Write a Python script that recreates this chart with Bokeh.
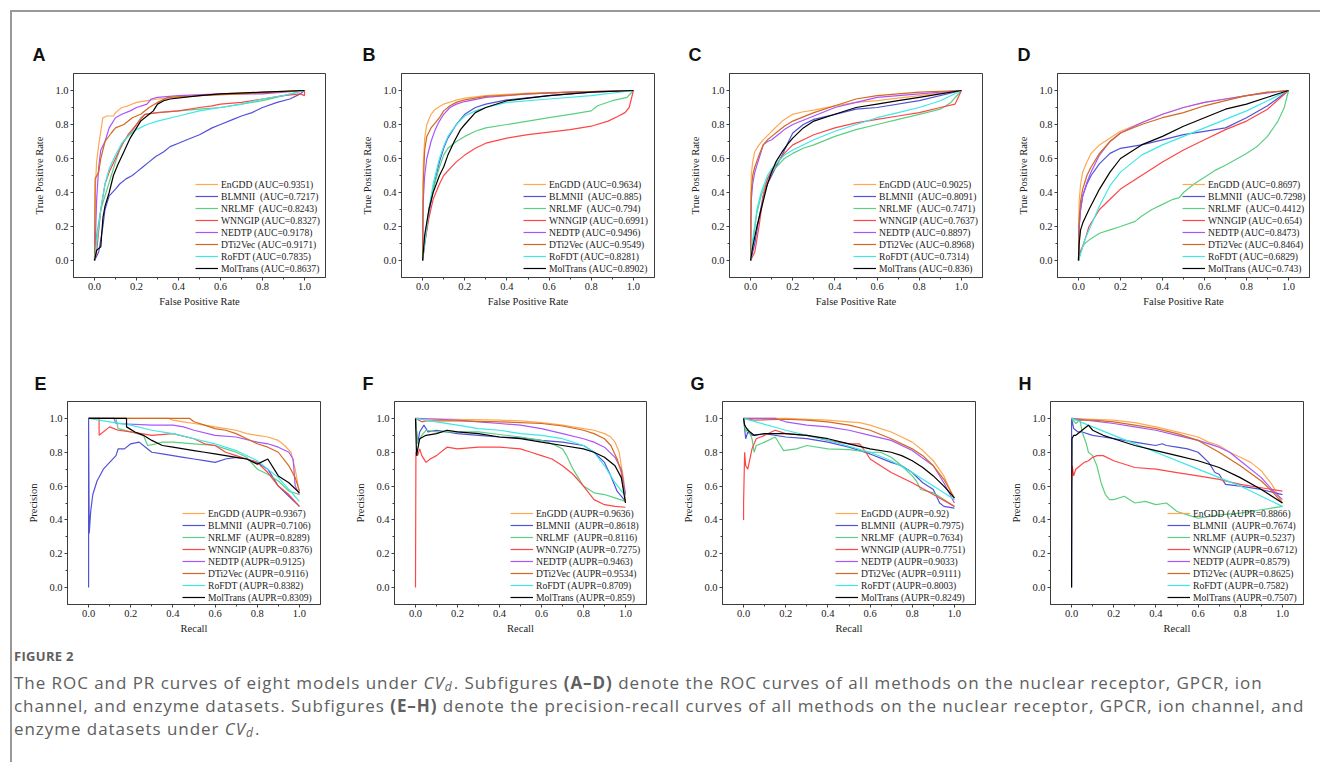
from bokeh.plotting import figure
from bokeh.models import (Range1d, FixedTicker, PrintfTickFormatter, Legend,
                          LegendItem, Div)
from bokeh.layouts import row, column
from bokeh.embed import file_html
from bokeh.resources import INLINE

# ---------------- data ----------------
METHODS = ["EnGDD", "BLMNII", "NRLMF", "WNNGIP", "NEDTP", "DTi2Vec", "RoFDT", "MolTrans"]
LEGEND_NAMES = ["EnGDD", "BLMNII ", "NRLMF ", "WNNGIP", "NEDTP", "DTi2Vec", "RoFDT", "MolTrans"]
COLORS = ["#FFA852", "#5252D6", "#5CCF82", "#FF4646", "#A855FF", "#D2691E", "#3DE8E8", "#000000"]

AUC_A = ["0.9351", "0.7217", "0.8243", "0.8327", "0.9178", "0.9171", "0.7835", "0.8637"]
AUC_B = ["0.9634", "0.885", "0.794", "0.6991", "0.9496", "0.9549", "0.8281", "0.8902"]
AUC_C = ["0.9025", "0.8091", "0.7471", "0.7637", "0.8897", "0.8968", "0.7314", "0.836"]
AUC_D = ["0.8697", "0.7298", "0.4412", "0.654", "0.8473", "0.8464", "0.6829", "0.743"]
AUPR_E = ["0.9367", "0.7106", "0.8289", "0.8376", "0.9125", "0.9116", "0.8382", "0.8309"]
AUPR_F = ["0.9636", "0.8618", "0.8116", "0.7275", "0.9463", "0.9534", "0.8709", "0.859"]
AUPR_G = ["0.92", "0.7975", "0.7634", "0.7751", "0.9033", "0.9111", "0.8003", "0.8249"]
AUPR_H = ["0.8866", "0.7674", "0.5237", "0.6712", "0.8579", "0.8625", "0.7582", "0.7507"]

TICKS = [0.0, 0.2, 0.4, 0.6, 0.8, 1.0]
MINOR_TICKS = [0.1, 0.3, 0.5, 0.7, 0.9]

# ROC curves (FPR, TPR) -- panel A: nuclear receptor
A_EnGDD = ([0, 0.005, 0.01, 0.02, 0.03, 0.04, 0.06, 0.09, 0.1, 0.13, 0.16, 0.2, 0.25, 0.3, 0.4, 0.5, 0.6, 0.8, 1.0],
           [0, 0.45, 0.58, 0.68, 0.76, 0.84, 0.85, 0.85, 0.87, 0.9, 0.91, 0.93, 0.94, 0.95, 0.96, 0.97, 0.98, 0.99, 1.0])
A_BLMNII = ([0, 0.02, 0.04, 0.05, 0.07, 0.1, 0.12, 0.15, 0.18, 0.2, 0.23, 0.26, 0.29, 0.33, 0.36, 0.4, 0.44, 0.5, 0.56, 0.6, 0.66, 0.7, 0.75, 0.8, 0.87, 0.93, 0.98, 1.0],
            [0, 0.05, 0.2, 0.3, 0.38, 0.42, 0.45, 0.48, 0.5, 0.52, 0.55, 0.58, 0.61, 0.64, 0.67, 0.69, 0.71, 0.74, 0.78, 0.8, 0.83, 0.85, 0.87, 0.9, 0.93, 0.95, 0.98, 1.0])
A_NRLMF = ([0, 0.01, 0.03, 0.05, 0.06, 0.08, 0.1, 0.12, 0.14, 0.16, 0.18, 0.2, 0.22, 0.24, 0.3, 0.4, 0.5, 0.6, 0.7, 0.8, 0.9, 1.0],
           [0, 0.15, 0.3, 0.38, 0.42, 0.5, 0.58, 0.65, 0.7, 0.73, 0.76, 0.8, 0.84, 0.86, 0.87, 0.88, 0.89, 0.9, 0.92, 0.94, 0.97, 1.0])
A_WNNGIP = ([0, 0.01, 0.03, 0.05, 0.07, 0.1, 0.13, 0.16, 0.2, 0.24, 0.3, 0.4, 0.5, 0.56, 0.6, 0.7, 0.8, 0.9, 0.98, 1.0, 1.0],
            [0, 0.05, 0.3, 0.45, 0.52, 0.6, 0.68, 0.74, 0.8, 0.86, 0.87, 0.88, 0.9, 0.91, 0.92, 0.93, 0.95, 0.97, 0.98, 0.97, 1.0])
A_NEDTP = ([0, 0.005, 0.01, 0.02, 0.03, 0.05, 0.07, 0.1, 0.13, 0.17, 0.2, 0.25, 0.27, 0.3, 0.4, 0.6, 0.8, 0.9, 1.0],
           [0, 0.15, 0.35, 0.55, 0.65, 0.7, 0.78, 0.84, 0.86, 0.88, 0.9, 0.92, 0.95, 0.96, 0.97, 0.98, 0.98, 0.99, 1.0])
A_DTi2Vec = ([0, 0.003, 0.02, 0.03, 0.05, 0.08, 0.1, 0.14, 0.18, 0.22, 0.26, 0.3, 0.35, 0.5, 0.7, 0.85, 1.0],
             [0, 0.48, 0.52, 0.6, 0.7, 0.75, 0.78, 0.8, 0.84, 0.86, 0.9, 0.93, 0.96, 0.97, 0.98, 0.99, 1.0])
A_RoFDT = ([0, 0.01, 0.03, 0.05, 0.07, 0.1, 0.13, 0.16, 0.2, 0.25, 0.3, 0.4, 0.5, 0.6, 0.7, 0.8, 0.9, 1.0],
           [0, 0.1, 0.3, 0.45, 0.54, 0.62, 0.69, 0.73, 0.77, 0.8, 0.82, 0.85, 0.88, 0.9, 0.92, 0.95, 0.97, 1.0])
A_MolTrans = ([0, 0.01, 0.03, 0.04, 0.05, 0.07, 0.09, 0.11, 0.14, 0.17, 0.2, 0.22, 0.25, 0.28, 0.3, 0.33, 0.36, 0.5, 0.6, 0.8, 1.0],
              [0, 0.06, 0.08, 0.25, 0.32, 0.4, 0.5, 0.56, 0.64, 0.72, 0.78, 0.82, 0.85, 0.88, 0.92, 0.94, 0.95, 0.97, 0.98, 0.99, 1.0])

# panel B: GPCR
B_EnGDD = ([0, 0.003, 0.01, 0.02, 0.04, 0.06, 0.1, 0.15, 0.2, 0.3, 0.5, 0.7, 1.0],
           [0, 0.55, 0.72, 0.8, 0.86, 0.89, 0.92, 0.94, 0.955, 0.97, 0.985, 0.99, 1.0])
B_BLMNII = ([0, 0.01, 0.03, 0.05, 0.08, 0.1, 0.12, 0.16, 0.2, 0.25, 0.3, 0.4, 0.6, 0.8, 1.0],
            [0, 0.1, 0.28, 0.42, 0.58, 0.66, 0.72, 0.8, 0.86, 0.9, 0.92, 0.945, 0.97, 0.99, 1.0])
B_NRLMF = ([0, 0.01, 0.03, 0.05, 0.08, 0.1, 0.12, 0.16, 0.2, 0.25, 0.3, 0.4, 0.5, 0.6, 0.7, 0.8, 0.83, 0.9, 0.97, 1.0],
           [0, 0.12, 0.3, 0.42, 0.55, 0.62, 0.66, 0.7, 0.73, 0.76, 0.78, 0.8, 0.82, 0.84, 0.86, 0.88, 0.91, 0.94, 0.96, 1.0])
B_WNNGIP = ([0, 0.01, 0.03, 0.05, 0.08, 0.1, 0.13, 0.16, 0.2, 0.25, 0.3, 0.4, 0.5, 0.6, 0.7, 0.8, 0.88, 0.93, 0.96, 0.98, 1.0],
            [0, 0.1, 0.25, 0.36, 0.45, 0.5, 0.54, 0.58, 0.62, 0.66, 0.69, 0.72, 0.74, 0.755, 0.77, 0.79, 0.82, 0.85, 0.87, 0.9, 1.0])
B_NEDTP = ([0, 0.003, 0.01, 0.02, 0.04, 0.06, 0.08, 0.1, 0.13, 0.16, 0.2, 0.3, 0.5, 0.7, 1.0],
           [0, 0.35, 0.5, 0.6, 0.7, 0.77, 0.82, 0.86, 0.9, 0.92, 0.935, 0.96, 0.98, 0.99, 1.0])
B_DTi2Vec = ([0, 0.003, 0.01, 0.02, 0.04, 0.06, 0.08, 0.1, 0.13, 0.16, 0.2, 0.3, 0.5, 0.7, 1.0],
             [0, 0.45, 0.65, 0.73, 0.78, 0.81, 0.84, 0.88, 0.91, 0.93, 0.945, 0.965, 0.98, 0.99, 1.0])
B_RoFDT = ([0, 0.01, 0.03, 0.05, 0.08, 0.1, 0.12, 0.16, 0.2, 0.25, 0.3, 0.4, 0.6, 0.8, 1.0],
           [0, 0.1, 0.3, 0.45, 0.6, 0.67, 0.73, 0.8, 0.85, 0.88, 0.9, 0.93, 0.95, 0.97, 1.0])
B_MolTrans = ([0, 0.01, 0.03, 0.05, 0.08, 0.1, 0.12, 0.15, 0.18, 0.2, 0.25, 0.3, 0.4, 0.6, 0.8, 1.0],
              [0, 0.15, 0.3, 0.4, 0.5, 0.55, 0.62, 0.7, 0.77, 0.8, 0.87, 0.9, 0.94, 0.97, 0.99, 1.0])

# panel C: ion channel
C_EnGDD = ([0, 0.003, 0.01, 0.02, 0.04, 0.06, 0.1, 0.15, 0.2, 0.25, 0.3, 0.4, 0.5, 0.6, 0.8, 1.0],
           [0, 0.5, 0.58, 0.64, 0.68, 0.71, 0.76, 0.82, 0.86, 0.875, 0.885, 0.91, 0.93, 0.94, 0.97, 1.0])
C_BLMNII = ([0, 0.02, 0.04, 0.06, 0.08, 0.1, 0.12, 0.15, 0.18, 0.2, 0.25, 0.3, 0.4, 0.5, 0.6, 0.8, 1.0],
            [0, 0.1, 0.25, 0.38, 0.45, 0.5, 0.55, 0.62, 0.7, 0.75, 0.8, 0.83, 0.86, 0.89, 0.9, 0.94, 1.0])
C_NRLMF = ([0, 0.01, 0.03, 0.05, 0.08, 0.1, 0.13, 0.16, 0.2, 0.25, 0.3, 0.4, 0.5, 0.6, 0.7, 0.8, 0.9, 0.95, 1.0],
           [0, 0.1, 0.28, 0.38, 0.48, 0.52, 0.56, 0.6, 0.63, 0.66, 0.68, 0.73, 0.77, 0.8, 0.83, 0.86, 0.89, 0.93, 1.0])
C_WNNGIP = ([0, 0.02, 0.04, 0.06, 0.08, 0.1, 0.13, 0.16, 0.2, 0.25, 0.3, 0.4, 0.5, 0.6, 0.7, 0.8, 0.9, 0.97, 1.0],
            [0, 0.05, 0.2, 0.38, 0.48, 0.53, 0.58, 0.63, 0.68, 0.71, 0.74, 0.78, 0.81, 0.83, 0.85, 0.87, 0.9, 0.92, 1.0])
C_NEDTP = ([0, 0.003, 0.01, 0.02, 0.04, 0.06, 0.08, 0.1, 0.13, 0.16, 0.2, 0.3, 0.4, 0.5, 0.6, 0.8, 1.0],
           [0, 0.35, 0.45, 0.52, 0.6, 0.68, 0.7, 0.71, 0.74, 0.77, 0.8, 0.85, 0.9, 0.93, 0.96, 0.98, 1.0])
C_DTi2Vec = ([0, 0.003, 0.01, 0.02, 0.04, 0.06, 0.08, 0.1, 0.13, 0.16, 0.2, 0.3, 0.4, 0.5, 0.6, 0.8, 1.0],
             [0, 0.4, 0.5, 0.55, 0.62, 0.68, 0.71, 0.73, 0.76, 0.79, 0.82, 0.87, 0.91, 0.95, 0.97, 0.99, 1.0])
C_RoFDT = ([0, 0.01, 0.03, 0.05, 0.08, 0.1, 0.13, 0.16, 0.2, 0.3, 0.4, 0.5, 0.6, 0.7, 0.8, 0.9, 1.0],
           [0, 0.12, 0.3, 0.4, 0.5, 0.54, 0.58, 0.62, 0.65, 0.71, 0.76, 0.8, 0.84, 0.87, 0.9, 0.94, 1.0])
C_MolTrans = ([0, 0.01, 0.03, 0.05, 0.08, 0.1, 0.12, 0.15, 0.18, 0.2, 0.25, 0.3, 0.4, 0.5, 0.6, 0.7, 0.8, 0.9, 1.0],
              [0, 0.08, 0.2, 0.3, 0.45, 0.52, 0.58, 0.64, 0.69, 0.72, 0.78, 0.82, 0.86, 0.9, 0.92, 0.94, 0.96, 0.98, 1.0])

# panel D: enzyme
D_EnGDD = ([0, 0.003, 0.01, 0.02, 0.04, 0.06, 0.1, 0.15, 0.2, 0.3, 0.4, 0.5, 0.6, 0.7, 0.8, 0.9, 1.0],
           [0, 0.35, 0.45, 0.52, 0.58, 0.63, 0.68, 0.72, 0.76, 0.81, 0.86, 0.9, 0.93, 0.95, 0.97, 0.99, 1.0])
D_BLMNII = ([0, 0.003, 0.01, 0.02, 0.04, 0.06, 0.1, 0.15, 0.2, 0.3, 0.4, 0.5, 0.6, 0.7, 0.8, 0.9, 1.0],
            [0, 0.2, 0.3, 0.38, 0.45, 0.5, 0.57, 0.63, 0.66, 0.68, 0.71, 0.74, 0.76, 0.78, 0.84, 0.91, 1.0])
D_NRLMF = ([0, 0.01, 0.03, 0.05, 0.1, 0.15, 0.2, 0.27, 0.3, 0.35, 0.4, 0.45, 0.48, 0.5, 0.55, 0.6, 0.65, 0.7, 0.8, 0.85, 0.9, 0.95, 0.98, 1.0],
           [0, 0.06, 0.1, 0.12, 0.16, 0.18, 0.2, 0.23, 0.26, 0.3, 0.33, 0.36, 0.37, 0.4, 0.45, 0.49, 0.53, 0.56, 0.63, 0.67, 0.73, 0.82, 0.9, 1.0])
D_WNNGIP = ([0, 0.01, 0.03, 0.05, 0.1, 0.15, 0.2, 0.3, 0.4, 0.5, 0.6, 0.7, 0.8, 0.9, 1.0],
            [0, 0.05, 0.12, 0.2, 0.3, 0.36, 0.42, 0.5, 0.58, 0.65, 0.71, 0.77, 0.82, 0.89, 1.0])
D_NEDTP = ([0, 0.003, 0.01, 0.02, 0.04, 0.06, 0.1, 0.15, 0.2, 0.3, 0.4, 0.5, 0.6, 0.7, 0.8, 1.0],
           [0, 0.2, 0.3, 0.38, 0.46, 0.52, 0.62, 0.7, 0.75, 0.81, 0.86, 0.9, 0.93, 0.95, 0.97, 1.0])
D_DTi2Vec = ([0, 0.003, 0.01, 0.02, 0.04, 0.06, 0.1, 0.15, 0.2, 0.3, 0.4, 0.5, 0.6, 0.7, 0.8, 0.9, 1.0],
             [0, 0.25, 0.35, 0.42, 0.5, 0.55, 0.63, 0.7, 0.75, 0.8, 0.84, 0.87, 0.91, 0.94, 0.97, 0.99, 1.0])
D_RoFDT = ([0, 0.01, 0.03, 0.05, 0.1, 0.15, 0.2, 0.3, 0.4, 0.5, 0.6, 0.7, 0.8, 0.9, 1.0],
           [0, 0.04, 0.12, 0.18, 0.32, 0.44, 0.52, 0.62, 0.68, 0.73, 0.78, 0.83, 0.88, 0.94, 1.0])
D_MolTrans = ([0, 0.003, 0.01, 0.02, 0.05, 0.1, 0.15, 0.2, 0.3, 0.4, 0.5, 0.6, 0.7, 0.8, 0.9, 1.0],
              [0, 0.1, 0.18, 0.22, 0.3, 0.42, 0.52, 0.6, 0.68, 0.73, 0.79, 0.84, 0.89, 0.92, 0.96, 1.0])

# PR curves (Recall, Precision) -- panel E: nuclear receptor
E_EnGDD = ([0, 0.38, 0.4, 0.45, 0.5, 0.55, 0.6, 0.65, 0.7, 0.75, 0.8, 0.85, 0.9, 0.93, 0.96, 0.98, 1.0],
           [1.0, 1.0, 0.99, 0.98, 0.97, 0.96, 0.95, 0.94, 0.93, 0.91, 0.9, 0.89, 0.87, 0.84, 0.8, 0.7, 0.56])
E_BLMNII = ([0, 0, 0.003, 0.01, 0.02, 0.04, 0.07, 0.1, 0.13, 0.14, 0.17, 0.2, 0.24, 0.27, 0.3, 0.35, 0.4, 0.45, 0.5, 0.55, 0.6, 0.65, 0.7, 0.75, 0.8, 0.85, 0.9, 0.95, 1.0],
            [0, 1.0, 0.32, 0.45, 0.55, 0.63, 0.7, 0.74, 0.78, 0.82, 0.82, 0.85, 0.86, 0.83, 0.8, 0.79, 0.78, 0.77, 0.76, 0.75, 0.74, 0.76, 0.77, 0.76, 0.74, 0.7, 0.6, 0.54, 0.48])
E_NRLMF = ([0, 0.13, 0.14, 0.2, 0.26, 0.28, 0.32, 0.35, 0.4, 0.5, 0.6, 0.65, 0.7, 0.75, 0.8, 0.85, 0.9, 0.95, 1.0],
           [1.0, 1.0, 0.94, 0.92, 0.9, 0.84, 0.85, 0.86, 0.86, 0.85, 0.84, 0.82, 0.8, 0.77, 0.7, 0.67, 0.63, 0.57, 0.55])
E_WNNGIP = ([0, 0.05, 0.05, 0.1, 0.14, 0.2, 0.3, 0.4, 0.5, 0.55, 0.6, 0.65, 0.7, 0.75, 0.8, 0.85, 0.9, 0.95, 1.0],
            [1.0, 1.0, 0.9, 0.95, 0.93, 0.92, 0.9, 0.91, 0.88, 0.85, 0.84, 0.8, 0.78, 0.76, 0.74, 0.68, 0.6, 0.55, 0.48])
E_NEDTP = ([0, 0.12, 0.13, 0.3, 0.4, 0.45, 0.5, 0.6, 0.7, 0.8, 0.85, 0.9, 0.95, 0.97, 0.98, 1.0],
           [1.0, 1.0, 0.97, 0.96, 0.96, 0.95, 0.93, 0.9, 0.89, 0.86, 0.85, 0.83, 0.8, 0.76, 0.6, 0.55])
E_DTi2Vec = ([0, 0.48, 0.5, 0.55, 0.6, 0.65, 0.7, 0.75, 0.8, 0.85, 0.9, 0.95, 0.98, 1.0],
             [1.0, 1.0, 0.98, 0.96, 0.94, 0.93, 0.91, 0.88, 0.85, 0.83, 0.8, 0.72, 0.65, 0.57])
E_RoFDT = ([0, 0.1, 0.2, 0.3, 0.4, 0.5, 0.6, 0.7, 0.8, 0.9, 1.0],
           [1.0, 0.98, 0.96, 0.93, 0.91, 0.88, 0.85, 0.81, 0.75, 0.65, 0.51])
E_MolTrans = ([0, 0.18, 0.18, 0.22, 0.26, 0.3, 0.35, 0.4, 0.45, 0.5, 0.55, 0.6, 0.65, 0.7, 0.75, 0.8, 0.85, 0.9, 0.95, 1.0],
              [1.0, 1.0, 0.95, 0.92, 0.9, 0.87, 0.84, 0.83, 0.82, 0.81, 0.8, 0.79, 0.78, 0.77, 0.76, 0.73, 0.76, 0.66, 0.62, 0.56])

# panel F: GPCR
F_EnGDD = ([0, 0.2, 0.4, 0.5, 0.6, 0.7, 0.8, 0.85, 0.9, 0.93, 0.95, 0.97, 0.98, 0.99, 1.0],
           [1.0, 0.995, 0.99, 0.985, 0.975, 0.96, 0.94, 0.93, 0.91, 0.89, 0.86, 0.8, 0.72, 0.65, 0.55])
F_BLMNII = ([0, 0.01, 0.02, 0.04, 0.06, 0.1, 0.2, 0.3, 0.4, 0.5, 0.6, 0.7, 0.8, 0.85, 0.9, 0.93, 0.96, 1.0],
            [1.0, 0.85, 0.92, 0.96, 0.92, 0.93, 0.91, 0.9, 0.89, 0.885, 0.87, 0.86, 0.84, 0.8, 0.74, 0.66, 0.57, 0.51])
F_NRLMF = ([0, 0.01, 0.03, 0.05, 0.1, 0.2, 0.3, 0.4, 0.5, 0.6, 0.65, 0.7, 0.72, 0.75, 0.78, 0.8, 0.85, 0.9, 0.95, 1.0],
           [1.0, 0.85, 0.9, 0.93, 0.92, 0.92, 0.92, 0.905, 0.89, 0.87, 0.85, 0.82, 0.78, 0.7, 0.64, 0.6, 0.56, 0.55, 0.53, 0.51])
F_WNNGIP = ([0, 0.002, 0.01, 0.02, 0.03, 0.05, 0.07, 0.1, 0.15, 0.2, 0.3, 0.4, 0.5, 0.55, 0.6, 0.65, 0.7, 0.75, 0.8, 0.85, 0.9, 0.95, 1.0],
            [0, 0.8, 0.78, 0.82, 0.78, 0.74, 0.76, 0.78, 0.83, 0.82, 0.83, 0.83, 0.82, 0.8, 0.78, 0.76, 0.72, 0.67, 0.6, 0.52, 0.49, 0.48, 0.475])
F_NEDTP = ([0, 0.1, 0.2, 0.3, 0.4, 0.5, 0.6, 0.7, 0.8, 0.85, 0.9, 0.95, 0.98, 1.0],
           [1.0, 0.995, 0.99, 0.98, 0.97, 0.96, 0.94, 0.91, 0.88, 0.86, 0.83, 0.77, 0.7, 0.55])
F_DTi2Vec = ([0, 0.03, 0.05, 0.2, 0.4, 0.6, 0.7, 0.8, 0.85, 0.9, 0.93, 0.96, 0.98, 1.0],
             [1.0, 0.98, 0.985, 0.985, 0.98, 0.97, 0.955, 0.93, 0.91, 0.88, 0.84, 0.76, 0.68, 0.51])
F_RoFDT = ([0, 0.1, 0.2, 0.3, 0.4, 0.5, 0.6, 0.7, 0.8, 0.85, 0.9, 0.95, 1.0],
           [1.0, 0.98, 0.96, 0.94, 0.93, 0.91, 0.9, 0.88, 0.84, 0.8, 0.72, 0.62, 0.54])
F_MolTrans = ([0, 0.005, 0.02, 0.05, 0.1, 0.15, 0.2, 0.3, 0.4, 0.5, 0.6, 0.7, 0.8, 0.85, 0.9, 0.95, 0.98, 1.0],
              [1.0, 0.78, 0.88, 0.9, 0.91, 0.93, 0.92, 0.91, 0.89, 0.88, 0.86, 0.84, 0.82, 0.8, 0.77, 0.72, 0.65, 0.5])

# panel G: ion channel
G_EnGDD = ([0, 0.2, 0.4, 0.5, 0.55, 0.6, 0.65, 0.7, 0.75, 0.8, 0.85, 0.9, 0.95, 1.0],
           [1.0, 1.0, 0.99, 0.98, 0.975, 0.96, 0.94, 0.92, 0.89, 0.86, 0.81, 0.75, 0.66, 0.52])
G_BLMNII = ([0, 0.01, 0.02, 0.04, 0.1, 0.2, 0.3, 0.4, 0.5, 0.6, 0.7, 0.75, 0.8, 0.85, 0.9, 0.93, 0.95, 1.0],
            [1.0, 0.88, 0.92, 0.9, 0.91, 0.89, 0.88, 0.86, 0.83, 0.79, 0.74, 0.72, 0.68, 0.62, 0.58, 0.5, 0.48, 0.47])
G_NRLMF = ([0, 0.01, 0.02, 0.04, 0.05, 0.06, 0.1, 0.15, 0.17, 0.19, 0.25, 0.3, 0.4, 0.5, 0.6, 0.65, 0.7, 0.75, 0.8, 0.82, 0.84, 0.9, 0.95, 1.0],
           [1.0, 0.92, 0.94, 0.88, 0.8, 0.84, 0.86, 0.89, 0.85, 0.81, 0.82, 0.84, 0.82, 0.815, 0.8, 0.8, 0.77, 0.72, 0.66, 0.63, 0.58, 0.56, 0.52, 0.48])
G_WNNGIP = ([0, 0, 0.005, 0.01, 0.02, 0.04, 0.06, 0.1, 0.15, 0.2, 0.3, 0.4, 0.5, 0.55, 0.58, 0.6, 0.65, 0.7, 0.8, 0.9, 1.0],
            [0.4, 0.5, 0.8, 0.72, 0.7, 0.82, 0.88, 0.9, 0.93, 0.91, 0.9, 0.87, 0.85, 0.85, 0.8, 0.76, 0.72, 0.68, 0.62, 0.55, 0.48])
G_NEDTP = ([0, 0.15, 0.2, 0.3, 0.4, 0.5, 0.6, 0.7, 0.8, 0.9, 0.95, 1.0],
           [1.0, 1.0, 0.98, 0.96, 0.95, 0.93, 0.9, 0.87, 0.81, 0.72, 0.62, 0.5])
G_DTi2Vec = ([0, 0.05, 0.2, 0.3, 0.4, 0.5, 0.6, 0.7, 0.8, 0.85, 0.9, 0.95, 1.0],
             [1.0, 0.99, 0.995, 0.99, 0.98, 0.96, 0.93, 0.88, 0.82, 0.78, 0.72, 0.64, 0.53])
G_RoFDT = ([0, 0.2, 0.4, 0.6, 0.7, 0.8, 0.9, 1.0],
           [1.0, 0.93, 0.87, 0.8, 0.75, 0.68, 0.6, 0.52])
G_MolTrans = ([0, 0.005, 0.02, 0.05, 0.1, 0.2, 0.3, 0.4, 0.5, 0.6, 0.7, 0.75, 0.8, 0.85, 0.9, 0.95, 1.0],
              [1.0, 0.96, 0.93, 0.9, 0.91, 0.91, 0.9, 0.88, 0.85, 0.82, 0.8, 0.78, 0.75, 0.71, 0.66, 0.6, 0.53])

# panel H: enzyme
H_EnGDD = ([0, 0.1, 0.2, 0.3, 0.4, 0.5, 0.6, 0.65, 0.7, 0.75, 0.8, 0.85, 0.9, 0.95, 1.0],
           [1.0, 0.995, 0.99, 0.975, 0.95, 0.92, 0.89, 0.86, 0.84, 0.8, 0.77, 0.74, 0.69, 0.61, 0.5])
H_BLMNII = ([0, 0, 0.01, 0.03, 0.05, 0.1, 0.15, 0.2, 0.3, 0.35, 0.4, 0.43, 0.45, 0.5, 0.55, 0.6, 0.65, 0.68, 0.7, 0.73, 0.8, 0.9, 1.0],
            [0, 1.0, 0.94, 0.92, 0.92, 0.9, 0.89, 0.88, 0.86, 0.85, 0.84, 0.85, 0.84, 0.83, 0.82, 0.8, 0.74, 0.68, 0.67, 0.61, 0.6, 0.58, 0.55])
H_NRLMF = ([0, 0.02, 0.04, 0.05, 0.07, 0.08, 0.1, 0.12, 0.14, 0.16, 0.18, 0.2, 0.25, 0.3, 0.35, 0.4, 0.45, 0.5, 0.55, 0.6, 0.7, 0.8, 0.9, 1.0],
           [1.0, 0.97, 0.99, 0.92, 0.85, 0.8, 0.78, 0.72, 0.62, 0.55, 0.52, 0.52, 0.54, 0.5, 0.51, 0.49, 0.5, 0.45, 0.43, 0.41, 0.43, 0.44, 0.46, 0.48])
H_WNNGIP = ([0, 0.003, 0.01, 0.02, 0.04, 0.06, 0.08, 0.1, 0.12, 0.15, 0.2, 0.3, 0.4, 0.5, 0.6, 0.7, 0.8, 0.9, 1.0],
            [0.63, 0.72, 0.66, 0.7, 0.72, 0.74, 0.75, 0.77, 0.78, 0.78, 0.75, 0.71, 0.7, 0.68, 0.66, 0.64, 0.61, 0.59, 0.57])
H_NEDTP = ([0, 0.1, 0.2, 0.3, 0.4, 0.5, 0.6, 0.7, 0.75, 0.8, 0.9, 0.95, 1.0],
           [1.0, 0.985, 0.97, 0.95, 0.93, 0.9, 0.87, 0.83, 0.8, 0.75, 0.65, 0.58, 0.52])
H_DTi2Vec = ([0, 0.03, 0.1, 0.2, 0.3, 0.4, 0.5, 0.6, 0.7, 0.8, 0.9, 0.95, 1.0],
             [1.0, 0.99, 0.99, 0.98, 0.96, 0.94, 0.91, 0.87, 0.8, 0.72, 0.63, 0.57, 0.5])
H_RoFDT = ([0, 0.2, 0.4, 0.6, 0.8, 1.0],
           [1.0, 0.9, 0.8, 0.7, 0.6, 0.48])
H_MolTrans = ([0, 0.002, 0.01, 0.02, 0.04, 0.06, 0.08, 0.1, 0.15, 0.2, 0.3, 0.4, 0.5, 0.6, 0.7, 0.8, 0.9, 1.0],
              [0, 0.88, 0.9, 0.9, 0.92, 0.94, 0.96, 0.93, 0.9, 0.88, 0.84, 0.81, 0.78, 0.75, 0.71, 0.65, 0.58, 0.5])

CURVES_A = [A_EnGDD, A_BLMNII, A_NRLMF, A_WNNGIP, A_NEDTP, A_DTi2Vec, A_RoFDT, A_MolTrans]
CURVES_B = [B_EnGDD, B_BLMNII, B_NRLMF, B_WNNGIP, B_NEDTP, B_DTi2Vec, B_RoFDT, B_MolTrans]
CURVES_C = [C_EnGDD, C_BLMNII, C_NRLMF, C_WNNGIP, C_NEDTP, C_DTi2Vec, C_RoFDT, C_MolTrans]
CURVES_D = [D_EnGDD, D_BLMNII, D_NRLMF, D_WNNGIP, D_NEDTP, D_DTi2Vec, D_RoFDT, D_MolTrans]
CURVES_E = [E_EnGDD, E_BLMNII, E_NRLMF, E_WNNGIP, E_NEDTP, E_DTi2Vec, E_RoFDT, E_MolTrans]
CURVES_F = [F_EnGDD, F_BLMNII, F_NRLMF, F_WNNGIP, F_NEDTP, F_DTi2Vec, F_RoFDT, F_MolTrans]
CURVES_G = [G_EnGDD, G_BLMNII, G_NRLMF, G_WNNGIP, G_NEDTP, G_DTi2Vec, G_RoFDT, G_MolTrans]
CURVES_H = [H_EnGDD, H_BLMNII, H_NRLMF, H_WNNGIP, H_NEDTP, H_DTi2Vec, H_RoFDT, H_MolTrans]

SERIF = "Liberation Serif"
FRAME_COLOR = "#3c3c3c"


def panel(letter, curves, vals, metric, xlabel, ylabel, width, height,
          bl, br, bt, bb, letter_dx, letter_standoff, leg_x, leg_y):
    p = figure(width=width, height=height,
               x_range=Range1d(-0.1, 1.1), y_range=Range1d(-0.1, 1.1),
               output_backend="svg", toolbar_location=None,
               min_border_left=bl, min_border_right=br,
               min_border_top=bt, min_border_bottom=bb)
    p.xgrid.visible = False
    p.ygrid.visible = False
    p.outline_line_color = FRAME_COLOR
    p.outline_line_width = 1
    p.background_fill_color = "white"
    p.border_fill_color = "white"

    # panel letter as the figure title
    p.title.text = letter
    p.title.align = "left"
    p.title.offset = letter_dx
    p.title.text_font = "Liberation Sans"
    p.title.text_font_style = "bold"
    p.title.text_font_size = "18px"
    p.title.text_color = "#111111"
    p.title.standoff = letter_standoff

    p.xaxis.axis_label = xlabel
    p.yaxis.axis_label = ylabel
    for ax in (p.xaxis[0], p.yaxis[0]):
        ax.ticker = FixedTicker(ticks=TICKS, minor_ticks=MINOR_TICKS)
        ax.formatter = PrintfTickFormatter(format="%.1f")
        ax.major_tick_out = 3
        ax.major_tick_in = 0
        ax.minor_tick_out = 2
        ax.minor_tick_in = 0
        ax.major_tick_line_color = FRAME_COLOR
        ax.minor_tick_line_color = FRAME_COLOR
        ax.axis_line_color = FRAME_COLOR
        ax.major_label_standoff = 2
        ax.major_label_text_font = SERIF
        ax.major_label_text_font_size = "10.5px"
        ax.major_label_text_color = "#222222"
        ax.axis_label_text_font = SERIF
        ax.axis_label_text_font_size = "10.5px"
        ax.axis_label_text_font_style = "normal"
        ax.axis_label_text_color = "#222222"
    p.xaxis[0].axis_label_standoff = 3
    p.yaxis[0].axis_label_standoff = 7

    items = []
    for name, col, (xs, ys), v in zip(LEGEND_NAMES, COLORS, curves, vals):
        r = p.line(xs, ys, line_color=col, line_width=1.2)
        items.append(LegendItem(label=f"{name} ({metric}={v})", renderers=[r]))
    leg = Legend(items=items, location=(leg_x, leg_y), padding=0, spacing=0,
                 margin=0, glyph_width=23, glyph_height=12, label_height=12,
                 label_standoff=3, label_text_font=SERIF,
                 label_text_font_size="9.6px", label_text_color="#222222",
                 background_fill_alpha=0, border_line_alpha=0)
    p.add_layout(leg)
    return p


FPR = "False Positive Rate"
TPR = "True Positive Rate"
pA = panel("A", CURVES_A, AUC_A, "AUC", FPR, TPR, 328, 328, 61, 15, 61, 63, -41, 17, 122, 3)
pB = panel("B", CURVES_B, AUC_B, "AUC", FPR, TPR, 328, 328, 61, 14, 61, 63, -39, 17, 122, 3)
pC = panel("C", CURVES_C, AUC_C, "AUC", FPR, TPR, 328, 328, 61, 14, 61, 63, -41, 17, 124, 3)
pD = panel("D", CURVES_D, AUC_D, "AUC", FPR, TPR, 316, 328, 61, 3, 61, 63, -40, 17, 125, 3)

pE = panel("E", CURVES_E, AUPR_E, "AUPR", "Recall", "Precision", 328, 300, 55, 20, 61, 36, -33, 16, 115, 1)
pF = panel("F", CURVES_F, AUPR_F, "AUPR", "Recall", "Precision", 328, 300, 54, 22, 61, 36, -32, 16, 116, 1)
pG = panel("G", CURVES_G, AUPR_G, "AUPR", "Recall", "Precision", 328, 300, 54, 21, 61, 36, -32, 16, 113, 1)
pH = panel("H", CURVES_H, AUPR_H, "AUPR", "Recall", "Precision", 316, 300, 54, 9, 61, 36, -32, 16, 117, 1)

CAPTION_TITLE = "FIGURE 2"
SUB_D = ('<i>CV<span style="font-size:12px;line-height:0;vertical-align:-2px;'
         'margin-right:1px;">d</span></i>')
CAPTION_LINES = [
    'The ROC and PR curves of eight models under ' + SUB_D + '. '
    'Subfigures <b>(A\u2013D)</b> denote the ROC curves of all methods on the nuclear receptor, GPCR, ion',
    'channel, and enzyme datasets. Subfigures <b>(E\u2013H)</b> denote the precision-recall curves of all '
    'methods on the nuclear receptor, GPCR, ion channel, and',
    'enzyme datasets under ' + SUB_D + '.',
]
CAPTION_HTML = (
    '<div style="font-size:13px;font-weight:700;line-height:16px;margin:8px 0 0 2px;'
    'letter-spacing:0.3px;">' + CAPTION_TITLE + '</div>'
    '<div style="font-size:17px;line-height:23px;margin:7px 0 0 2px;white-space:nowrap;'
    'letter-spacing:0.95px;">' + "<br>".join(CAPTION_LINES) + '</div>'
)
caption = Div(text=CAPTION_HTML, width=1300, height=112, margin=0,
              styles={"font-family": "'Open Sans', sans-serif", "color": "#606060"})

FRAME_GRAY = "#999999"
hline = Div(text="", width=1308, height=2, margin=0, styles={"background-color": FRAME_GRAY})
vline = Div(text="", width=2, height=752, margin=0, styles={"background-color": FRAME_GRAY})

content = column(hline, row(pA, pB, pC, pD), row(pE, pF, pG, pH), caption)
root = row(vline, content, margin=(10, 0, 0, 10))

open("out.html", "w").write(file_html(root, INLINE))
